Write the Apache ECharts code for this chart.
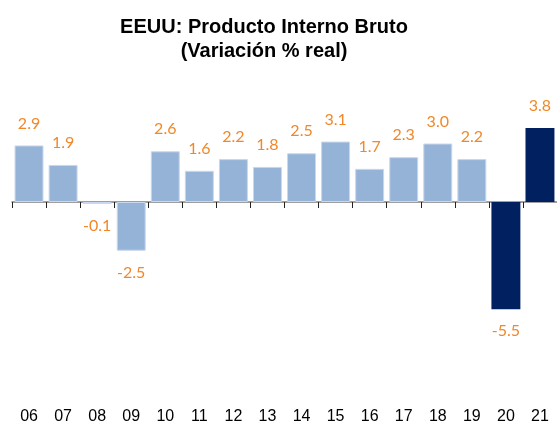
<!DOCTYPE html>
<html>
<head>
<meta charset="utf-8">
<script src="https://cdn.jsdelivr.net/npm/echarts@6/dist/echarts.min.js"></script>
<style>
  html, body { margin: 0; padding: 0; background: #fff; }
  #main { width: 557px; height: 429px; }
</style>
</head>
<body>
<div id="main"></div>
<script>
const years = ['06', '07', '08', '09', '10', '11', '12', '13', '14', '15', '16', '17', '18', '19', '20', '21'];
const gdpGrowth = [2.9, 1.9, -0.1, -2.5, 2.6, 1.6, 2.2, 1.8, 2.5, 3.1, 1.7, 2.3, 3.0, 2.2, -5.5, 3.8];
const highlightYears = ['20', '21'];

const chart = echarts.init(document.getElementById('main'));

const barData = gdpGrowth.map((v, i) => {
  const dark = highlightYears.includes(years[i]);
  return {
    value: v,
    itemStyle: dark
      ? { color: '#002060', borderColor: '#002060', borderWidth: 0 }
      : { color: '#95B3D7', borderColor: '#C9D8EC', borderWidth: 1 },
    label: { position: v < 0 ? 'bottom' : 'top' }
  };
});

const option = {
  animation: false,
  title: {
    text: 'EEUU: Producto Interno Bruto\n(Variación % real)',
    left: 259,
    textAlign: 'center',
    top: 10,
    textStyle: {
      fontFamily: 'Liberation Sans, Arial, sans-serif',
      fontWeight: 'bold',
      fontSize: 20,
      lineHeight: 24,
      color: '#000'
    }
  },
  grid: [
    // bars + zero line
    { left: 12, right: 0, top: 124, height: 195 },
    // only carries the year labels at the bottom
    { left: 12, right: 0, top: 124, bottom: 29 }
  ],
  xAxis: [
    {
      type: 'category',
      data: years,
      gridIndex: 0,
      axisLine: { onZero: true, lineStyle: { color: '#808080', width: 1.5 } },
      axisTick: { show: true, interval: 0, length: 6, lineStyle: { color: '#222' } },
      axisLabel: { show: false }
    },
    {
      type: 'category',
      data: years,
      gridIndex: 1,
      axisLine: { show: false, onZero: false },
      axisTick: { show: false },
      axisLabel: {
        interval: 0,
        margin: 9,
        fontFamily: 'Liberation Sans, Arial, sans-serif',
        fontSize: 16,
        color: '#000'
      }
    }
  ],
  yAxis: [
    { type: 'value', gridIndex: 0, min: -6, max: 4, show: false, splitLine: { show: false } },
    { type: 'value', gridIndex: 1, min: 0, max: 1, show: false, splitLine: { show: false } }
  ],
  series: [
    {
      type: 'bar',
      xAxisIndex: 0,
      yAxisIndex: 0,
      data: barData,
      barCategoryGap: '15%',
      label: {
        show: true,
        distance: 14,
        fontFamily: 'Lato, sans-serif',
        fontSize: 16,
        color: '#F0882A',
        formatter: p => p.value.toFixed(1)
      }
    }
  ]
};

chart.setOption(option);
</script>
</body>
</html>
